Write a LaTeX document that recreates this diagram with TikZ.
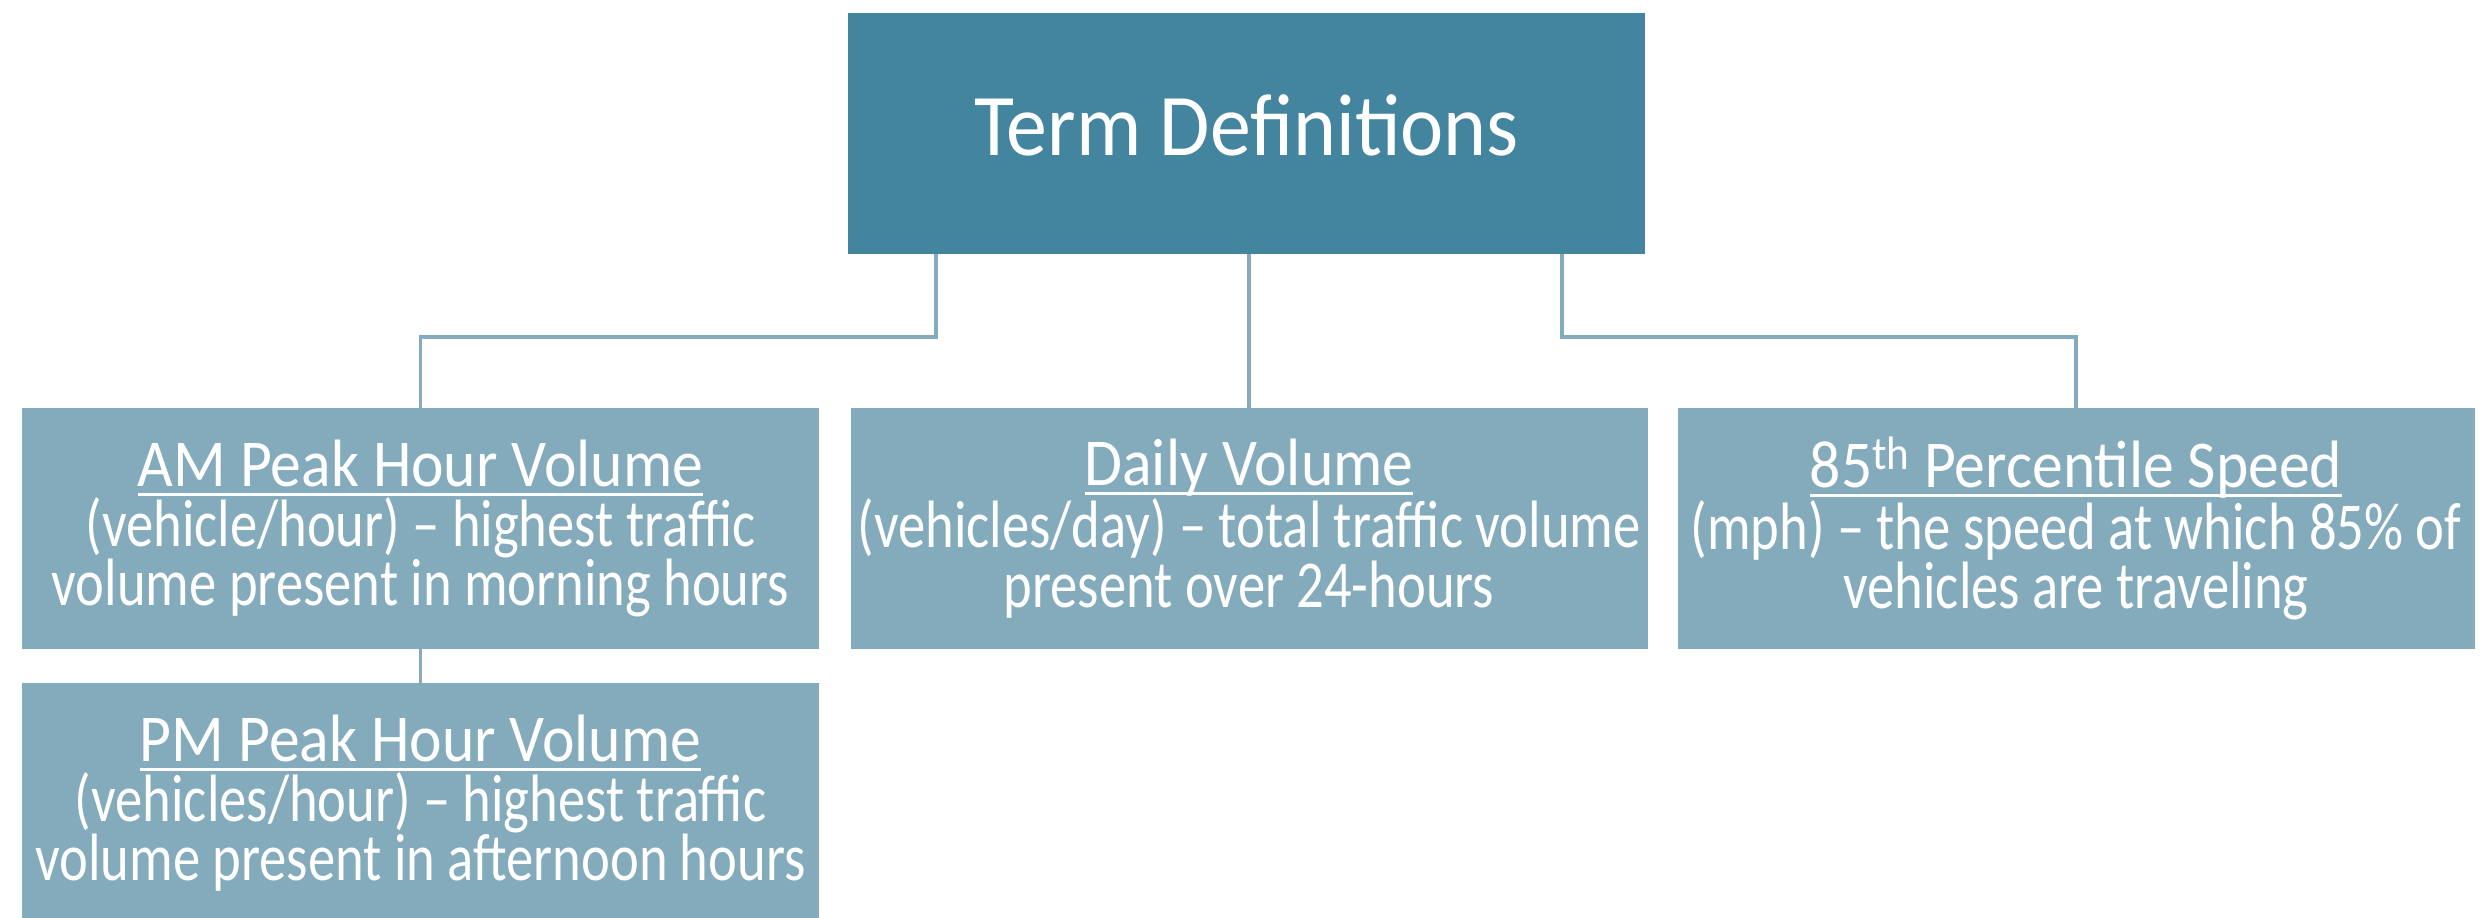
\documentclass[tikz,border=0pt]{standalone}
\usepackage{fontspec}
\setmainfont{Carlito}[FakeStretch=0.815]
\newfontfamily\headfont{Carlito}[FakeStretch=0.92]
\newfontfamily\titlefont{Carlito}[FakeStretch=0.93]
\definecolor{termblue}{RGB}{67,132,158}
\definecolor{termgray}{RGB}{132,171,188}
\newcommand\headline[1]{\setbox0\hbox{\headfont #1}\rlap{\rule[-4.75pt]{\wd0}{1.5pt}}\box0}

\begin{document}
\begin{tikzpicture}[x=0.5pt, y=0.5pt,
  title/.style={fill=termblue, text=white, inner sep=0pt, text depth=8pt, minimum width=398.5pt, minimum height=120.5pt, font=\titlefont\fontsize{44}{50}\selectfont},
  term/.style={fill=termgray, text=white, inner sep=0pt, align=center, minimum width=398.5pt, minimum height=120.5pt, font=\fontsize{33.5}{29.75}\selectfont},
  link/.style={draw=termgray, line width=1.75pt}]
\useasboundingbox (0, 0) rectangle (2483, 917);
\node [title] (top) at (1246.5, 783.5) {Term Definitions};
\node [term] (am) at (420.5, 388.5) {\headline{AM Peak Hour Volume}\\(vehicle/hour) -- highest traffic\\volume present in morning hours};
\node [term] (daily) at (1249, 388.5) {\headline{Daily Volume}\\(vehicles/day) -- total traffic volume\\present over 24-hours};
\node [term] (speed) at (2076, 388.5) {\headline{85\textsuperscript{th} Percentile Speed}\\(mph) -- the speed at which 85\% of\\vehicles are traveling};
\node [term] (pm) at (420.5, 113.5) {\headline{PM Peak Hour Volume}\\(vehicles/hour) -- highest traffic\\volume present in afternoon hours};
\draw [link] ([xshift=-155.25pt]top.south) -- ++(0, -82.5) -| (am.north);
\draw [link] (daily.north |- top.south) -- (daily.north);
\draw [link] ([xshift=157.75pt]top.south) -- ++(0, -82.5) -| (speed.north);
\draw [link] (am.south) -- (pm.north);
\end{tikzpicture}
\end{document}
